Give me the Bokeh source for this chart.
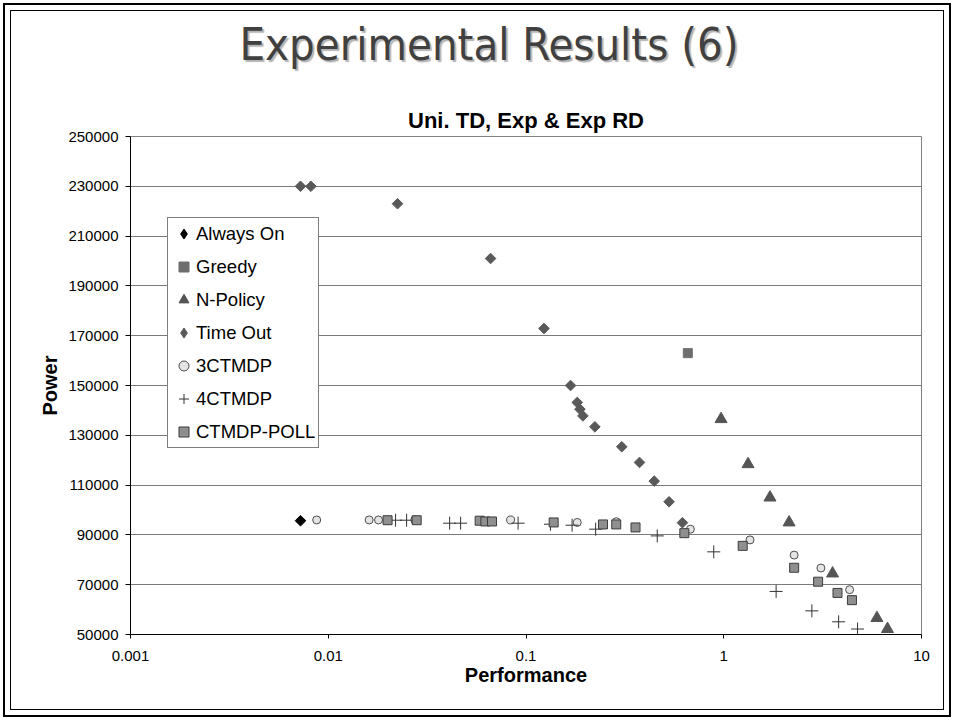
from bokeh.plotting import figure
from bokeh.layouts import column
from bokeh.models import (Legend, LegendItem, Div, FixedTicker, Range1d, NumeralTickFormatter)
from bokeh.embed import file_html
from bokeh.resources import INLINE

# ---------------- data ----------------
x_ticks = [0.001, 0.01, 0.1, 1, 10]
x_tick_labels = ["0.001", "0.01", "0.1", "1", "10"]
y_ticks = [50000, 70000, 90000, 110000, 130000, 150000, 170000, 190000, 210000, 230000, 250000]

always_on_x = [0.00724]
always_on_y = [95700]

greedy_x = [0.658]
greedy_y = [163000]

npolicy_x = [0.969, 1.327, 1.713, 2.14, 3.55, 5.95, 6.73]
npolicy_y = [136500, 118400, 105000, 95000, 74500, 56600, 52200]

timeout_x = [0.00724, 0.00817, 0.0224, 0.0662, 0.1233, 0.168, 0.1816, 0.1874, 0.194,
             0.223, 0.305, 0.375, 0.445, 0.529, 0.618]
timeout_y = [230000, 230000, 223000, 201000, 172900, 150000, 143200, 140500, 137800,
             133400, 125400, 119100, 111600, 103300, 94900]

ctmdp3_x = [0.00874, 0.0161, 0.01795, 0.0274, 0.0836, 0.1816, 0.286, 0.678, 1.358,
            2.27, 3.10, 4.33]
ctmdp3_y = [96000, 96000, 96000, 96000, 96000, 95000, 95300, 92300, 88000,
            81900, 76700, 68000]

ctmdp4_x = [0.0219, 0.0249, 0.0411, 0.0467, 0.0912, 0.133, 0.171, 0.225, 0.461,
            0.890, 1.84, 2.79, 3.81, 4.75]
ctmdp4_y = [95900, 95900, 94700, 94700, 94700, 94300, 93900, 92300, 89600,
            83200, 67300, 59500, 55100, 52200]

poll_x = [0.01995, 0.028, 0.0583, 0.0623, 0.0673, 0.138, 0.245, 0.286, 0.358,
          0.632, 1.247, 2.27, 3.00, 3.76, 4.45]
poll_y = [95900, 95900, 95700, 95400, 95400, 95000, 94200, 94200, 93000,
          90700, 85600, 76800, 71200, 66700, 63800]

main_title = "Experimental Results (6)"
sub_title = "Uni. TD, Exp & Exp RD"

# ---------------- slide title (HTML, with shadow) ----------------
title_div = Div(
    text=('<div style="width:954px;height:90px;line-height:90px;box-sizing:border-box;'
          'padding-left:24px;text-align:center;white-space:nowrap;'
          "font-family:'Liberation Sans Narrow','DejaVu Sans Condensed',sans-serif;"
          'font-size:45px;color:#404040;text-shadow:2px 2px 1px #b4b4b4;">'
          + main_title + '</div>'),
    width=954, height=90, margin=(0, 0, 0, 0))

# ---------------- figure ----------------
p = figure(width=954, height=630, frame_width=791, frame_height=498,
           min_border_left=130, min_border_right=33, min_border_top=46, min_border_bottom=86,
           x_axis_type="log", x_range=Range1d(0.001, 10), y_range=Range1d(50000, 250000),
           output_backend="svg", toolbar_location=None, margin=(0, 0, 0, 0),
           title=sub_title)
p.background_fill_color = "white"
p.border_fill_color = None
p.outline_line_color = "#808080"
p.outline_line_width = 1

p.title.align = "center"
p.title.text_font = "Liberation Sans"
p.title.text_font_style = "bold"
p.title.text_font_size = "22px"
p.title.text_color = "black"
p.title.standoff = 8

p.xgrid.visible = False
p.ygrid.ticker = FixedTicker(ticks=y_ticks)
p.ygrid.grid_line_color = "#7a7a7a"
p.ygrid.grid_line_width = 1

p.xaxis.ticker = FixedTicker(ticks=x_ticks, minor_ticks=[])
p.xaxis.major_label_overrides = dict(zip(x_ticks, x_tick_labels))
p.yaxis.ticker = FixedTicker(ticks=y_ticks, minor_ticks=[])
p.yaxis.formatter = NumeralTickFormatter(format="0")

for ax in (p.xaxis[0], p.yaxis[0]):
    ax.axis_line_color = "black"
    ax.axis_line_width = 1
    ax.major_tick_line_color = "black"
    ax.major_tick_in = 0
    ax.minor_tick_line_color = None
    ax.major_label_text_font = "Liberation Sans"
    ax.major_label_text_font_size = "15px"
    ax.major_label_text_color = "black"
    ax.axis_label_text_font = "Liberation Sans"
    ax.axis_label_text_font_style = "bold"
    ax.axis_label_text_font_size = "20px"
    ax.axis_label_text_color = "black"

p.xaxis.major_tick_out = 4
p.xaxis.major_label_standoff = 12
p.xaxis.axis_label = "Performance"
p.xaxis.axis_label_standoff = 0
p.yaxis.major_tick_out = 5
p.yaxis.major_label_standoff = 7
p.yaxis.axis_label = "Power"
p.yaxis.axis_label_standoff = 4

DIAMOND = 0.7853981634

r_always = p.scatter(always_on_x, always_on_y, marker="square", angle=DIAMOND, size=7.5,
                     fill_color="black", line_color="black")
r_greedy = p.scatter(greedy_x, greedy_y, marker="square", size=9,
                     fill_color="#6e6e6e", line_color="#6e6e6e")
r_npol = p.scatter(npolicy_x, npolicy_y, marker="triangle", size=12,
                   fill_color="#555555", line_color="#555555")
r_tout = p.scatter(timeout_x, timeout_y, marker="square", angle=DIAMOND, size=7.5,
                   fill_color="#595959", line_color="#595959")
r_c3 = p.scatter(ctmdp3_x, ctmdp3_y, marker="circle", size=8,
                 fill_color="#e4e4e4", line_color="#4d4d4d", line_width=1)
r_c4 = p.scatter(ctmdp4_x, ctmdp4_y, marker="cross", size=13,
                 line_color="#333333", line_width=1)
r_poll = p.scatter(poll_x, poll_y, marker="square", size=9,
                   fill_color="#8f8f8f", line_color="#3c3c3c", line_width=1)

# hidden twins (same data) whose legend glyph is a diamond shape
leg_always = p.scatter(always_on_x, always_on_y, marker="diamond",
                       fill_color="black", line_color="black", visible=False)
leg_tout = p.scatter(timeout_x, timeout_y, marker="diamond",
                     fill_color="#595959", line_color="#595959", visible=False)

legend = Legend(items=[
    LegendItem(label="Always On", renderers=[leg_always]),
    LegendItem(label="Greedy", renderers=[r_greedy]),
    LegendItem(label="N-Policy", renderers=[r_npol]),
    LegendItem(label="Time Out", renderers=[leg_tout]),
    LegendItem(label="3CTMDP", renderers=[r_c3]),
    LegendItem(label="4CTMDP", renderers=[r_c4]),
    LegendItem(label="CTMDP-POLL", renderers=[r_poll]),
], location=(37, 186))
legend.margin = 0
legend.padding = 3
legend.spacing = 8
legend.glyph_width = 25
legend.glyph_height = 25
legend.label_height = 21
legend.label_standoff = -8
legend.label_text_font = "Liberation Sans"
legend.label_text_font_size = "18.5px"
legend.label_text_color = "black"
legend.label_text_baseline = "middle"
legend.border_line_color = "black"
legend.border_line_width = 1
legend.background_fill_color = "white"
legend.background_fill_alpha = 1.0
legend.inactive_fill_alpha = 0.0
legend.click_policy = "none"
p.add_layout(legend)

page = column(title_div, p, spacing=0, margin=(0, 0, 0, 0))
page.styles = {
    "background-color": "white",
    "box-shadow": ("inset 0 0 0 3px white, inset 0 0 0 5px black, "
                   "inset 0 0 0 10px white, inset 0 0 0 11px black"),
}

open("out.html", "w").write(file_html(page, INLINE))
